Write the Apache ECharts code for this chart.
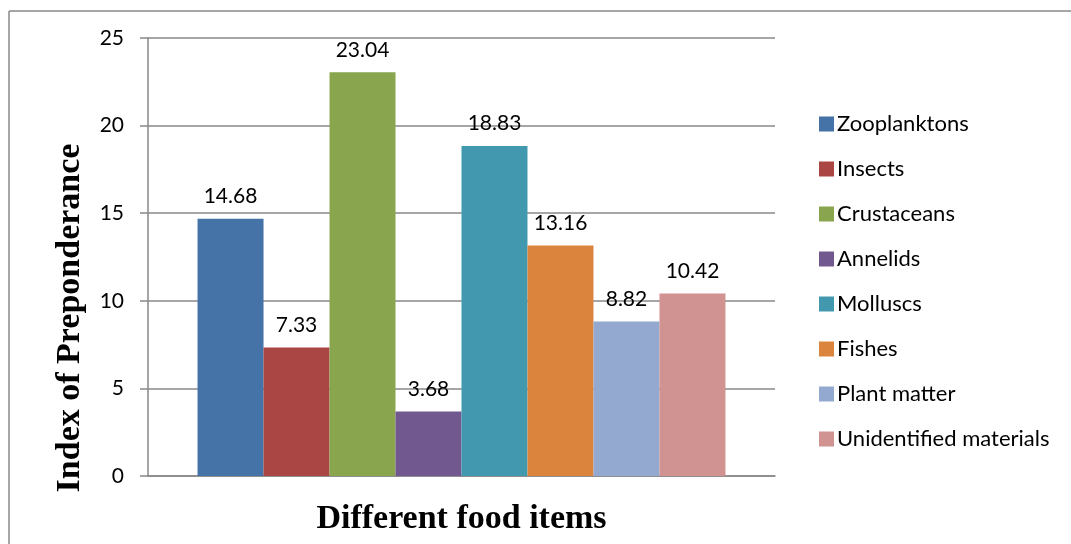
<!DOCTYPE html>
<html>
<head>
<meta charset="utf-8">
<script src="https://cdn.jsdelivr.net/npm/echarts@6/dist/echarts.min.js"></script>
<style>
html,body{margin:0;padding:0;background:#fff;}
#chart{width:1071px;height:544px;}
</style>
</head>
<body>
<div id="chart"></div>
<script>
var seriesNames = ['Zooplanktons','Insects','Crustaceans','Annelids','Molluscs','Fishes','Plant matter','Unidentified materials'];
var seriesValues = [14.68, 7.33, 23.04, 3.68, 18.83, 13.16, 8.82, 10.42];
var seriesColors = ['#4572A7','#AA4643','#89A54E','#71588F','#4198AF','#DB843D','#93A9CF','#D19392'];
var categories = [''];
var yTicks = [0, 5, 10, 15, 20, 25];

var sansFont = 'Lato';
var serifFont = '"Liberation Serif", "Times New Roman", serif';

var series = seriesNames.map(function (name, i) {
  return {
    name: name,
    type: 'bar',
    data: [seriesValues[i]],
    itemStyle: { color: seriesColors[i] },
    barGap: '0%',
    barCategoryGap: '15.8%',
    label: {
      show: true,
      position: 'top',
      distance: 12,
      color: '#000',
      fontFamily: sansFont,
      fontSize: 21,
      formatter: function (p) { return p.value.toFixed(2); }
    }
  };
});

var chart = echarts.init(document.getElementById('chart'), null, { renderer: 'canvas' });
chart.setOption({
  animation: false,
  backgroundColor: '#fff',
  grid: { left: 148, right: 296, top: 38, bottom: 68, containLabel: false },
  legend: {
    orient: 'vertical',
    left: 814,
    top: 107,
    itemWidth: 15,
    itemHeight: 15,
    itemGap: 21,
    icon: 'rect',
    textStyle: { fontFamily: sansFont, fontSize: 22, color: '#000', lineHeight: 24, padding: [0,0,0,-2] },
    data: seriesNames
  },
  xAxis: {
    type: 'category',
    data: categories,
    name: 'Different food items',
    nameLocation: 'middle',
    nameGap: 26,
    nameTextStyle: { fontFamily: serifFont, fontWeight: 'bold', fontSize: 34, color: '#000' },
    axisLine: { show: true, lineStyle: { color: '#888', width: 1.5 } },
    axisTick: { show: false },
    axisLabel: { show: false }
  },
  yAxis: {
    type: 'value',
    min: yTicks[0],
    max: yTicks[yTicks.length - 1],
    interval: yTicks[1] - yTicks[0],
    axisLine: { show: true, lineStyle: { color: '#888', width: 1.5 } },
    axisTick: { show: true, length: 8, lineStyle: { color: '#888', width: 1.5 } },
    axisLabel: { margin: 24, fontFamily: sansFont, fontSize: 21, color: '#000' },
    splitLine: { show: true, lineStyle: { color: '#888', width: 1.5 } }
  },
  graphic: [
    { type: 'line', shape: { x1: 9, y1: 11, x2: 9, y2: 544 }, style: { stroke: '#888', lineWidth: 1.5 } },
    { type: 'line', shape: { x1: 9, y1: 11, x2: 1071, y2: 11 }, style: { stroke: '#888', lineWidth: 1.5 } },
    {
      type: 'text',
      x: 70, y: 318,
      rotation: Math.PI / 2,
      style: {
        text: 'Index of Preponderance',
        font: 'bold 34px ' + serifFont,
        fill: '#000',
        align: 'center',
        verticalAlign: 'middle'
      }
    }
  ],
  series: series
});
</script>
</body>
</html>
